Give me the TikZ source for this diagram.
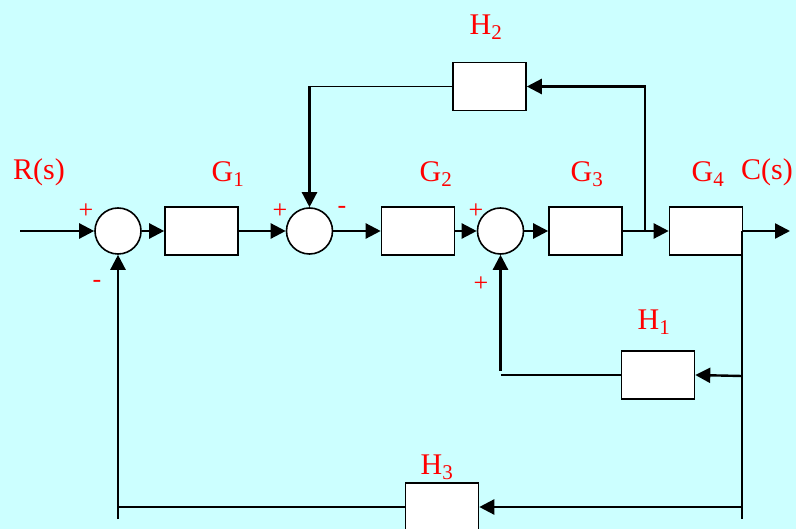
\documentclass[tikz,border=0pt]{standalone}
\usepackage{fontspec}
\setmainfont{Liberation Serif}
\usetikzlibrary{arrows.meta}
\definecolor{bgc}{RGB}{204,255,255}
\definecolor{lbl}{RGB}{255,0,0}
\tikzset{
  blk/.style={draw=black, line width=1.6pt, fill=white, minimum width=73pt, minimum height=48pt, inner sep=0pt},
  sumc/.style={draw=black, line width=1.6pt, fill=white, circle, minimum size=46pt, inner sep=0pt},
  wire/.style={line width=2.4pt, black},
  thinwire/.style={line width=1.7pt, black},
  arr/.style={-{Triangle[length=15pt,width=15pt]}},
  lab/.style={text=lbl, font=\fontsize{30}{34}\selectfont, inner sep=0pt},
  sgn/.style={text=lbl, font=\fontsize{26}{30}\selectfont, inner sep=0pt}
}
\newcommand{\sbs}[1]{\textsubscript{#1}}
\begin{document}
\begin{tikzpicture}[x=1pt,y=-1pt]
\fill[bgc] (0,0) rectangle (796,529);
\useasboundingbox (0,0) rectangle (796,529);
% forward path
\node[sumc] (s1) at (118,231) {};
\node[blk] (G1) at (201.5,231) {};
\node[sumc] (s2) at (309.5,231) {};
\node[blk] (G2) at (418,231) {};
\node[sumc] (s3) at (500.5,231) {};
\node[blk] (G3) at (585.5,231) {};
\node[blk] (G4) at (706,231) {};
\node[blk] (H2) at (489.5,86.5) {};
\node[blk] (H1) at (658,375) {};
\node[blk] (H3) at (442,507) {};
\coordinate (in) at (20,231);
\coordinate (out) at (790,231);
\coordinate (b1) at (645,231);
\coordinate (b2) at (742,231);
\coordinate (rb) at (742,519);
\coordinate (t1) at (742,376);
\coordinate (t3) at (742,507);
\coordinate (lb) at (118,519);
% connectors
\draw[wire,arr] (in) -- (s1);
\draw[wire,arr] (s1) -- (G1);
\draw[wire,arr] (G1) -- (s2);
\draw[wire,arr] (s2) -- (G2);
\draw[wire,arr] (G2) -- (s3);
\draw[wire,arr] (s3) -- (G3);
\draw[wire,arr] (G3) -- (G4);
\draw[wire,arr] (G4) -- (out);
\draw[wire,arr] (b1) |- (H2.east);
\draw[thinwire] (H2.west) -| ([yshift=-2pt]s2.north |- H2.west);
\draw[wire,arr] (s2.north |- H2.west) -- (s2.north);
\draw[wire] (b2) -- (rb);
\draw[wire,arr] (t1) -- (H1.east);
\draw[thinwire] (H1.west) -- (H1.west -| s3.south);
\draw[wire,arr] ([yshift=4pt]H1.west -| s3.south) -- (s3.south);
\draw[wire,arr] (t3) -- (H3.east);
\draw[thinwire] (H3.west) -- (H3.west -| lb);
\draw[wire,arr] (lb) -- (s1.south);
% labels
\node[lab] (lR) at (39,172) {R(s)};
\node[lab] (lG1) at (228,174) {G\sbs{1}};
\node[lab] (lG2) at (436,174) {G\sbs{2}};
\node[lab] (lG3) at (587,174) {G\sbs{3}};
\node[lab] (lG4) at (708,174) {G\sbs{4}};
\node[lab] (lC) at (767,172) {C(s)};
\node[lab] (lH2) at (486,27) {H\sbs{2}};
\node[lab] (lH1) at (654,322) {H\sbs{1}};
\node[lab] (lH3) at (437,467) {H\sbs{3}};
% signs
\node[sgn] (p1) at (86,211) {+};
\node[sgn] (m1) at (97,284) {-};
\node[sgn] (p2) at (280,211) {+};
\node[sgn] (m2) at (342,210) {-};
\node[sgn] (p3) at (476,211) {+};
\node[sgn] (p4) at (481,284) {+};
\end{tikzpicture}
\end{document}
